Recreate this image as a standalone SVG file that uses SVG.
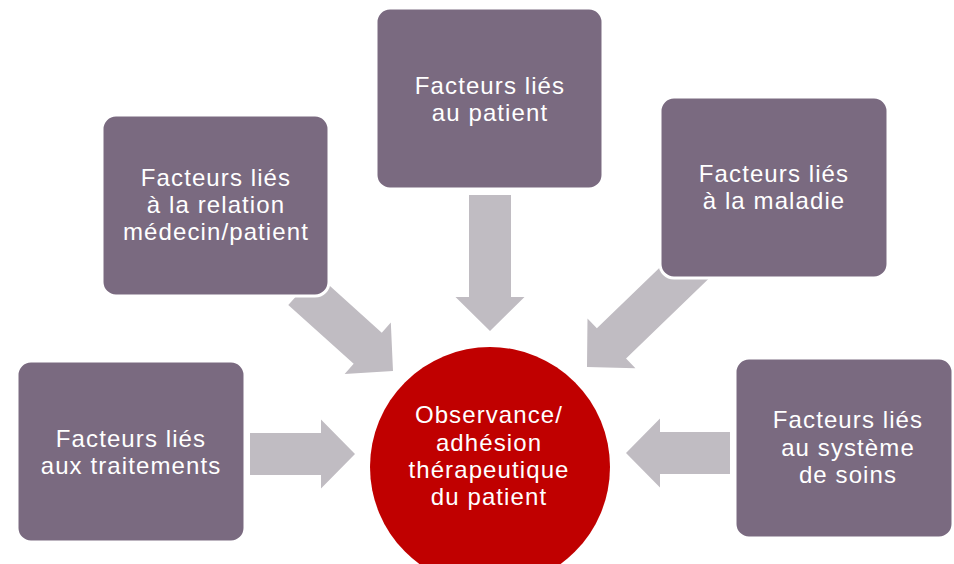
<svg xmlns="http://www.w3.org/2000/svg" width="954" height="564" viewBox="0 0 954 564">
  <style>
    .box { fill: #7a6a80; stroke: #ffffff; stroke-width: 3; }
    .arrow { fill: #c0bcc2; }
    .hub { fill: #c00000; }
    text { font-family: "Liberation Sans", Arial, sans-serif; font-size: 24px; letter-spacing: 1.1px; fill: #ffffff; text-anchor: middle; }
  </style>

  <!-- block arrows pointing towards the central circle -->
  <g id="connectors">
    <path class="arrow" transform="translate(490,331) rotate(90)" d="M0,0 L-34,-34.5 L-34,-21 L-136,-21 L-136,21 L-34,21 L-34,34.5 Z"/>
    <path class="arrow" transform="translate(393,371) rotate(42)" d="M0,0 L-34,-34.5 L-34,-21 L-122,-21 L-122,21 L-34,21 L-34,34.5 Z"/>
    <path class="arrow" transform="translate(587,367) rotate(136)" d="M0,0 L-34,-34.5 L-34,-21 L-165,-21 L-165,21 L-34,21 L-34,34.5 Z"/>
    <path class="arrow" transform="translate(355,454)" d="M0,0 L-34,-34.5 L-34,-21 L-105,-21 L-105,21 L-34,21 L-34,34.5 Z"/>
    <path class="arrow" transform="translate(626,453) rotate(180)" d="M0,0 L-34,-34.5 L-34,-21 L-104,-21 L-104,21 L-34,21 L-34,34.5 Z"/>
  </g>

  <g id="patient">
    <rect class="box" x="376" y="8" width="227" height="181" rx="14"/>
    <text x="490" y="94">Facteurs liés</text>
    <text x="490" y="121">au patient</text>
  </g>

  <g id="relation">
    <rect class="box" x="102" y="115" width="227" height="181" rx="14"/>
    <text x="216" y="186">Facteurs liés</text>
    <text x="216" y="213">à la relation</text>
    <text x="216" y="240">médecin/patient</text>
  </g>

  <g id="maladie">
    <rect class="box" x="660" y="97" width="228" height="181" rx="14"/>
    <text x="774" y="182">Facteurs liés</text>
    <text x="774" y="209">à la maladie</text>
  </g>

  <g id="traitements">
    <rect class="box" x="17" y="361" width="228" height="181" rx="14"/>
    <text x="131" y="447">Facteurs liés</text>
    <text x="131" y="474">aux traitements</text>
  </g>

  <g id="systeme">
    <rect class="box" x="735" y="358" width="218" height="180" rx="14"/>
    <text x="848" y="428">Facteurs liés</text>
    <text x="848" y="456">au système</text>
    <text x="848" y="483">de soins</text>
  </g>

  <g id="observance">
    <circle class="hub" cx="490" cy="467" r="120"/>
    <text x="489" y="423">Observance/</text>
    <text x="489" y="451">adhésion</text>
    <text x="489" y="478">thérapeutique</text>
    <text x="489" y="505">du patient</text>
  </g>
</svg>
